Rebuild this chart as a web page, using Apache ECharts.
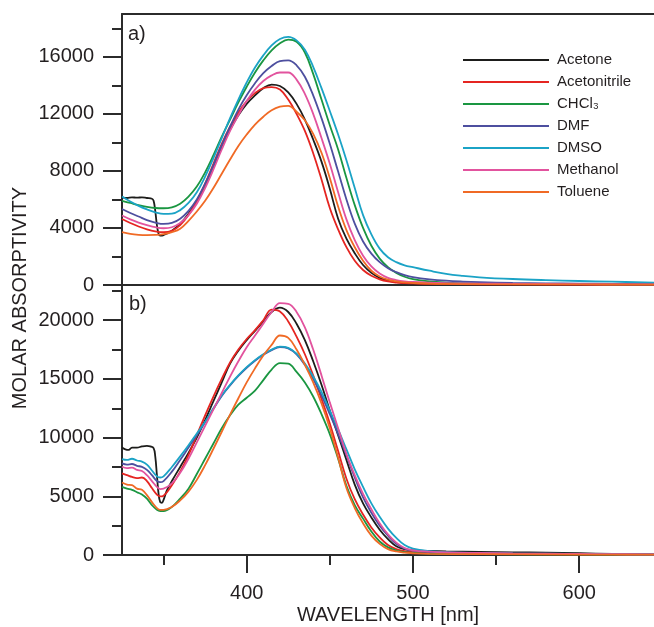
<!DOCTYPE html>
<html>
<head>
<meta charset="utf-8">
<script src="https://cdn.jsdelivr.net/npm/echarts@6/dist/echarts.min.js"></script>
<style>
  html, body { margin: 0; padding: 0; background: #ffffff; }
  #chart { width: 654px; height: 627px; }
</style>
</head>
<body>
<div id="chart"></div>
<script>
// Solvents and their line colours
const solvents = ['Acetone', 'Acetonitrile', 'CHCl₃', 'DMF', 'DMSO', 'Methanol', 'Toluene'];
const solventColors = ['#1d1d1b', '#e52521', '#1a9641', '#4d4f9f', '#1ba3c6', '#e2539e', '#f06a25'];

// Panel a) molar absorptivity spectra, [wavelength nm, epsilon]
const acetoneA = [[325,6150],[328,6100],[331,6150],[334,6120],[337,6150],[340,6100],[343,6050],[344,5900],[345,5200],[346,4200],[347,3600],[348,3460],[350,3500],[355,3800],[360,4300],[365,5000],[370,5900],[375,7000],[380,8300],[385,9700],[390,10900],[395,11900],[400,12700],[405,13300],[410,13800],[415,14050],[420,13950],[425,13500],[430,12700],[435,11600],[440,10200],[445,8650],[450,6750],[455,4650],[460,3250],[465,2230],[470,1400],[475,850],[480,500],[485,300],[490,200],[495,150],[500,120],[510,90],[540,60],[600,40],[645,30]];
const acetonitrileA = [[325,4630],[330,4350],[335,4100],[340,3900],[345,3760],[350,3700],[355,3800],[360,4200],[365,4900],[370,5900],[375,7100],[380,8500],[385,9900],[390,11100],[395,12100],[400,12900],[405,13450],[410,13800],[415,13870],[420,13700],[425,13000],[430,12000],[435,10800],[440,9240],[445,7400],[450,5400],[455,3900],[460,2650],[465,1700],[470,1050],[475,650],[480,400],[485,250],[490,170],[495,130],[500,110],[510,80],[540,50],[600,30],[645,20]];
const chcl3A = [[325,5900],[330,5750],[335,5600],[340,5480],[345,5400],[350,5380],[355,5450],[360,5700],[365,6200],[370,6900],[375,7900],[380,9100],[385,10400],[390,11600],[395,12800],[400,13900],[405,14900],[410,15750],[415,16450],[420,16950],[425,17200],[430,17050],[435,16300],[440,14800],[445,13000],[450,11200],[455,9500],[460,7500],[465,5600],[470,4000],[475,2750],[480,1850],[485,1250],[490,850],[495,580],[500,410],[510,250],[520,170],[530,130],[540,110],[560,80],[580,70],[600,60],[620,50],[645,40]];
const dmfA = [[325,5330],[330,5050],[335,4800],[340,4550],[345,4380],[350,4280],[355,4350],[360,4650],[365,5200],[370,6000],[375,7100],[380,8400],[385,9800],[390,11100],[395,12300],[400,13300],[405,14150],[410,14850],[415,15350],[420,15700],[425,15750],[430,15400],[435,14600],[440,13300],[445,11700],[450,9900],[455,7950],[460,6000],[465,4300],[470,3050],[475,2200],[480,1600],[485,1180],[490,900],[495,700],[500,560],[510,400],[520,300],[530,240],[540,200],[560,150],[580,120],[600,100],[620,80],[645,60]];
const dmsoA = [[325,6200],[330,5850],[335,5550],[340,5300],[345,5100],[350,4980],[355,5000],[360,5250],[365,5750],[370,6500],[375,7600],[380,8900],[385,10300],[390,11700],[395,13000],[400,14200],[405,15250],[410,16100],[415,16800],[420,17250],[425,17400],[430,17150],[435,16500],[440,15300],[445,13800],[450,12200],[455,10550],[460,8750],[465,6800],[470,4900],[475,3550],[480,2550],[485,1950],[490,1600],[495,1380],[500,1250],[510,1000],[520,780],[530,640],[540,540],[560,420],[580,340],[600,280],[620,230],[645,170]];
const methanolA = [[325,4870],[330,4600],[335,4380],[340,4200],[345,4050],[350,3980],[355,4050],[360,4350],[365,4900],[370,5700],[375,6800],[380,8100],[385,9500],[390,10800],[395,11900],[400,12900],[405,13700],[410,14300],[415,14700],[420,14900],[425,14900],[430,14400],[435,13400],[440,12000],[445,10300],[450,8500],[455,6500],[460,4600],[465,3150],[470,2050],[475,1300],[480,800],[485,500],[490,350],[495,260],[500,210],[510,160],[520,130],[540,100],[560,80],[600,60],[645,40]];
const tolueneA = [[325,3700],[330,3580],[335,3520],[340,3500],[345,3510],[350,3560],[355,3700],[360,3950],[365,4500],[370,5150],[375,5900],[380,6800],[385,7800],[390,8800],[395,9750],[400,10550],[405,11250],[410,11800],[415,12250],[420,12500],[425,12560],[430,12150],[435,11550],[440,10600],[445,9270],[450,7500],[455,5500],[460,3850],[465,2650],[470,1700],[475,1000],[480,600],[485,380],[490,250],[495,180],[500,140],[510,100],[520,80],[540,60],[600,40],[645,30]];

// Panel b) molar absorptivity spectra, [wavelength nm, epsilon]
const acetoneB = [[325,9150],[327,9000],[329,8950],[331,9150],[334,9150],[337,9250],[340,9300],[342,9250],[344,9100],[345,8400],[346,6800],[347,5200],[348,4500],[349,4450],[350,4700],[352,5500],[355,6300],[360,7500],[365,8700],[370,10000],[375,11500],[380,13100],[385,14700],[390,16300],[395,17400],[400,18300],[405,19100],[410,19900],[415,20700],[420,21070],[425,20700],[430,19700],[435,18300],[440,16500],[445,14500],[450,12300],[455,10200],[460,8100],[465,6000],[470,4400],[475,3200],[480,2150],[485,1350],[490,750],[495,500],[500,400],[510,340],[520,300],[540,260],[560,230],[580,200],[600,150],[620,100],[645,60]];
const acetonitrileB = [[325,6950],[328,6800],[331,6650],[334,6550],[337,6600],[340,6300],[343,5700],[346,5150],[348,4990],[350,5050],[355,5950],[360,7100],[365,8500],[370,10200],[375,11900],[380,13500],[385,15000],[390,16400],[395,17500],[400,18400],[405,19150],[410,20000],[415,20900],[420,20750],[425,19900],[430,18600],[435,17100],[440,15300],[445,13300],[450,11200],[455,8850],[460,6500],[465,4750],[470,3450],[475,2350],[480,1500],[485,850],[490,500],[495,330],[500,250],[510,180],[520,150],[540,120],[560,100],[600,70],[645,40]];
const chcl3B = [[325,5800],[328,5650],[331,5550],[334,5350],[337,5150],[340,4800],[343,4250],[346,3850],[348,3750],[350,3750],[355,4100],[360,4800],[365,5650],[370,6900],[375,8200],[380,9500],[385,10800],[390,11900],[395,12800],[400,13400],[405,14000],[410,14900],[415,15800],[420,16350],[425,16300],[430,15600],[435,14700],[440,13500],[445,12000],[450,10300],[455,8200],[460,5900],[465,4250],[470,3100],[475,2000],[480,1150],[485,650],[490,380],[495,250],[500,180],[510,120],[540,80],[600,50],[645,30]];
const dmfB = [[325,7800],[328,7700],[331,7750],[334,7600],[337,7500],[340,7250],[343,6800],[346,6300],[348,6200],[350,6300],[355,7100],[360,8100],[365,9150],[370,10200],[375,11300],[380,12450],[385,13550],[390,14450],[395,15250],[400,15950],[405,16550],[410,17050],[415,17450],[420,17720],[425,17600],[430,17100],[435,16200],[440,15000],[445,13600],[450,12000],[455,10300],[460,8500],[465,6600],[470,4900],[475,3600],[480,2500],[485,1650],[490,950],[495,550],[500,380],[510,260],[520,200],[540,150],[560,120],[600,80],[645,50]];
const dmsoB = [[325,8170],[328,8100],[331,8200],[334,8050],[337,7950],[340,7700],[343,7200],[346,6700],[348,6600],[350,6700],[355,7500],[360,8400],[365,9350],[370,10350],[375,11350],[380,12500],[385,13600],[390,14500],[395,15300],[400,16000],[405,16600],[410,17100],[415,17500],[420,17750],[425,17650],[430,17150],[435,16300],[440,15200],[445,13900],[450,12300],[455,10700],[460,9000],[465,7300],[470,5800],[475,4400],[480,3250],[485,2250],[490,1450],[495,850],[500,550],[510,330],[520,240],[540,170],[560,130],[600,90],[645,60]];
const methanolB = [[325,7520],[328,7400],[331,7450],[334,7250],[337,7150],[340,6800],[343,6300],[346,5800],[348,5620],[350,5650],[355,6100],[360,7000],[365,8200],[370,9600],[375,11000],[380,12400],[385,13800],[390,15200],[395,16500],[400,17700],[405,18700],[410,19700],[415,20700],[420,21450],[425,21400],[430,20700],[435,19400],[440,17500],[445,15300],[450,13000],[455,10800],[460,8600],[465,6800],[470,5200],[475,3900],[480,2700],[485,1750],[490,1050],[495,600],[500,400],[510,280],[520,220],[540,170],[560,130],[580,110],[600,90],[620,70],[645,50]];
const tolueneB = [[325,6180],[328,6000],[331,5950],[334,5650],[337,5550],[340,5100],[343,4500],[346,4000],[348,3850],[350,3850],[355,4100],[360,4650],[365,5400],[370,6400],[375,7650],[380,9050],[385,10500],[390,11950],[395,13350],[400,14700],[405,15900],[410,17000],[415,17900],[420,18700],[425,18500],[430,17500],[435,16200],[440,14700],[445,12900],[450,10800],[455,8300],[460,5700],[465,4000],[470,2700],[475,1650],[480,950],[485,500],[490,300],[495,200],[500,150],[510,100],[540,70],[600,40],[645,30]];

// Axis ranges and tick positions
const wlMin = 325, wlMax = 645;
const xMajorTicks = [400, 500, 600];
const xMinorTicks = [350, 450, 550];
const yMaxA = 19000;
const yMajorTicksA = [0, 4000, 8000, 12000, 16000];
const yMinorTicksA = [2000, 6000, 10000, 14000, 18000];
const yMaxB = 23000;
const yMajorTicksB = [0, 5000, 10000, 15000, 20000];
const yMinorTicksB = [2500, 7500, 12500, 17500, 22500];

const panelA = [acetoneA, acetonitrileA, chcl3A, dmfA, dmsoA, methanolA, tolueneA];
const panelB = [acetoneB, acetonitrileB, chcl3B, dmfB, dmsoB, methanolB, tolueneB];

const FONT = '"Liberation Sans", Arial, Helvetica, sans-serif';
const INK = '#231f20';
const axisLine = { show: true, onZero: false, lineStyle: { color: '#2b2b2b', width: 2 } };
const tickLine = { color: '#2b2b2b', width: 2 };
const plainNumber = v => String(v);

function lineSeries(name, data, color, axisIdx) {
  return {
    type: 'line', name: name, data: data,
    xAxisIndex: axisIdx, yAxisIndex: axisIdx,
    showSymbol: false, symbol: 'none',
    smooth: 0.4,
    lineStyle: { color: color, width: 1.8 },
    itemStyle: { color: color },
    emphasis: { disabled: true },
    z: 3
  };
}

const series = [];
solvents.forEach((s, i) => series.push(lineSeries(s, panelA[i], solventColors[i], 0)));
solvents.forEach((s, i) => series.push(lineSeries(s, panelB[i], solventColors[i], 2)));

const chart = echarts.init(document.getElementById('chart'), null, { renderer: 'canvas' });
chart.setOption({
  animation: false,
  backgroundColor: '#ffffff',
  grid: [
    { left: 122, right: 0, top: 14, height: 271 },
    { left: 122, right: 0, top: 285, height: 270 }
  ],
  xAxis: [
    { gridIndex: 0, type: 'value', min: wlMin, max: wlMax, position: 'bottom',
      axisLine: axisLine, axisTick: { show: false }, axisLabel: { show: false }, splitLine: { show: false } },
    { gridIndex: 0, type: 'value', min: wlMin, max: wlMax, position: 'top',
      axisLine: axisLine, axisTick: { show: false }, axisLabel: { show: false }, splitLine: { show: false } },
    { gridIndex: 1, type: 'value', min: wlMin, max: wlMax, position: 'bottom',
      axisLine: axisLine,
      axisTick: { show: true, length: 18, lineStyle: tickLine, customValues: xMajorTicks },
      axisLabel: { show: true, customValues: xMajorTicks, formatter: plainNumber, margin: 28, fontSize: 20, fontFamily: FONT, color: INK },
      splitLine: { show: false },
      name: 'WAVELENGTH [nm]', nameLocation: 'middle', nameGap: 50,
      nameTextStyle: { fontSize: 20, fontFamily: FONT, color: INK } },
    { gridIndex: 1, type: 'value', min: wlMin, max: wlMax, position: 'bottom',
      axisLine: { show: false, onZero: false },
      axisTick: { show: true, length: 10, lineStyle: tickLine, customValues: xMinorTicks },
      axisLabel: { show: false }, splitLine: { show: false } }
  ],
  yAxis: [
    { gridIndex: 0, type: 'value', min: 0, max: yMaxA, position: 'left',
      axisLine: axisLine,
      axisTick: { show: true, length: 19, lineStyle: tickLine, customValues: yMajorTicksA },
      axisLabel: { show: true, customValues: yMajorTicksA, formatter: plainNumber, margin: 28, fontSize: 20, fontFamily: FONT, color: INK },
      splitLine: { show: false } },
    { gridIndex: 0, type: 'value', min: 0, max: yMaxA, position: 'left',
      axisLine: { show: false, onZero: false },
      axisTick: { show: true, length: 10, lineStyle: tickLine, customValues: yMinorTicksA },
      axisLabel: { show: false }, splitLine: { show: false } },
    { gridIndex: 1, type: 'value', min: 0, max: yMaxB, position: 'left',
      axisLine: axisLine,
      axisTick: { show: true, length: 19, lineStyle: tickLine, customValues: yMajorTicksB },
      axisLabel: { show: true, customValues: yMajorTicksB, formatter: plainNumber, margin: 28, fontSize: 20, fontFamily: FONT, color: INK },
      splitLine: { show: false } },
    { gridIndex: 1, type: 'value', min: 0, max: yMaxB, position: 'left',
      axisLine: { show: false, onZero: false },
      axisTick: { show: true, length: 10, lineStyle: tickLine, customValues: yMinorTicksB },
      axisLabel: { show: false }, splitLine: { show: false } }
  ],
  legend: {
    data: solvents,
    orient: 'vertical',
    left: 463, top: 52,
    padding: 0,
    icon: 'rect',
    itemWidth: 86, itemHeight: 2, itemGap: 6,
    selectedMode: false,
    textStyle: { fontSize: 15, fontFamily: FONT, color: INK, lineHeight: 16, padding: [0, 0, 0, 3] }
  },
  graphic: [
    { type: 'text', x: 128, y: 24, style: { text: 'a)', font: '20px ' + FONT, fill: INK } },
    { type: 'text', x: 129, y: 294, style: { text: 'b)', font: '20px ' + FONT, fill: INK } },
    { type: 'text', x: 20, y: 298, rotation: Math.PI / 2,
      style: { text: 'MOLAR ABSORPTIVITY', font: '20px ' + FONT, fill: INK, align: 'center', verticalAlign: 'middle' } }
  ],
  series: series
});
</script>
</body>
</html>
